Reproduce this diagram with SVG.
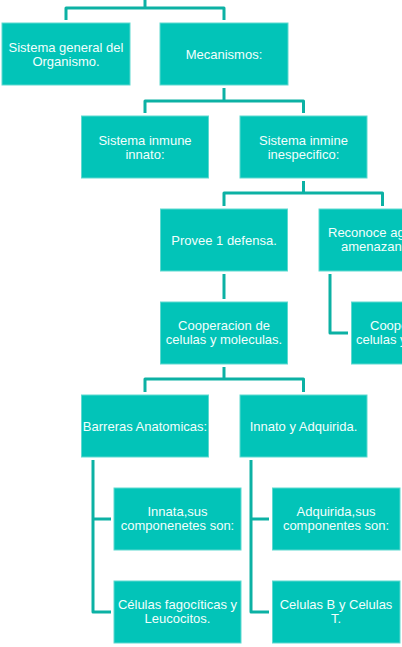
<svg xmlns="http://www.w3.org/2000/svg" width="402" height="647" viewBox="0 0 402 647">
<style>
.box{fill:#02c4b8;stroke:#5fd9d0;stroke-width:1}
.t{font-family:"Liberation Sans",Arial,sans-serif;font-size:13px;fill:#f2fffd;text-anchor:middle}
.ts{font-family:"Liberation Sans",Arial,sans-serif;font-size:13px;fill:#f2fffd;text-anchor:start}
.c{fill:none;stroke:#0cb1a4;stroke-width:3;stroke-linejoin:round;stroke-linecap:butt}
</style>
<rect width="402" height="647" fill="#ffffff"/>
<g id="connectors">
<path class="c" d="M145,0 V8"/>
<path class="c" d="M66,20 V8 H224 V20"/>
<path class="c" d="M224,88 V101"/>
<path class="c" d="M145,113 V101 H303.5 V113"/>
<path class="c" d="M303.5,181 V193"/>
<path class="c" d="M224,206 V193 H382.5 V206"/>
<path class="c" d="M224,274 V299"/>
<path class="c" d="M330,274 V333 H348"/>
<path class="c" d="M224,367 V379"/>
<path class="c" d="M145,392 V379 H303.5 V392"/>
<path class="c" d="M93,460 V612 H111"/>
<path class="c" d="M93,519 H111"/>
<path class="c" d="M251,460 V612 H269"/>
<path class="c" d="M251,519 H269"/>
</g>
<g id="n1"><rect class="box" x="2" y="23" width="128" height="62"/><text class="t" x="66" y="52">Sistema general del</text><text class="t" x="66" y="66">Organismo.</text></g>
<g id="n2"><rect class="box" x="160" y="23" width="128" height="62"/><text class="t" x="224" y="59">Mecanismos:</text></g>
<g id="n3"><rect class="box" x="81.5" y="116" width="127" height="62"/><text class="t" x="145" y="145">Sistema inmune</text><text class="t" x="145" y="159">innato:</text></g>
<g id="n4"><rect class="box" x="240" y="116" width="127" height="62"/><text class="t" x="303.5" y="145">Sistema inmine</text><text class="t" x="303.5" y="159">inespecifico:</text></g>
<g id="n5"><rect class="box" x="160.5" y="209" width="127" height="62"/><text class="t" x="224" y="244.5">Provee 1 defensa.</text></g>
<g id="n6"><rect class="box" x="319" y="209" width="127" height="62"/><text class="ts" x="328" y="237">Reconoce ag</text><text class="ts" x="341" y="251">amenazan</text></g>
<g id="n7"><rect class="box" x="160.5" y="302" width="127" height="62"/><text class="t" x="224" y="330">Cooperacion de</text><text class="t" x="224" y="344">celulas y moleculas.</text></g>
<g id="n8"><rect class="box" x="351.5" y="302" width="127" height="62"/><text class="ts" x="370" y="330">Coope</text><text class="ts" x="356" y="344">celulas y</text></g>
<g id="n9"><rect class="box" x="81.5" y="395" width="127" height="62"/><text class="t" x="145" y="430.5">Barreras Anatomicas:</text></g>
<g id="n10"><rect class="box" x="240" y="395" width="127" height="62"/><text class="t" x="303.5" y="430.5">Innato y Adquirida.</text></g>
<g id="n11"><rect class="box" x="114" y="488" width="127" height="62"/><text class="t" x="177.5" y="516">Innata,sus</text><text class="t" x="177.5" y="530">componenetes son:</text></g>
<g id="n12"><rect class="box" x="114" y="581" width="127" height="62"/><text class="t" x="177.5" y="609">Células fagocíticas y</text><text class="t" x="177.5" y="623">Leucocitos.</text></g>
<g id="n13"><rect class="box" x="272.5" y="488" width="127.5" height="62"/><text class="t" x="336" y="516">Adquirida,sus</text><text class="t" x="336" y="530">componentes son:</text></g>
<g id="n14"><rect class="box" x="272.5" y="581" width="127.5" height="62"/><text class="t" x="336" y="609">Celulas B y Celulas</text><text class="t" x="336" y="623">T.</text></g>
</svg>
